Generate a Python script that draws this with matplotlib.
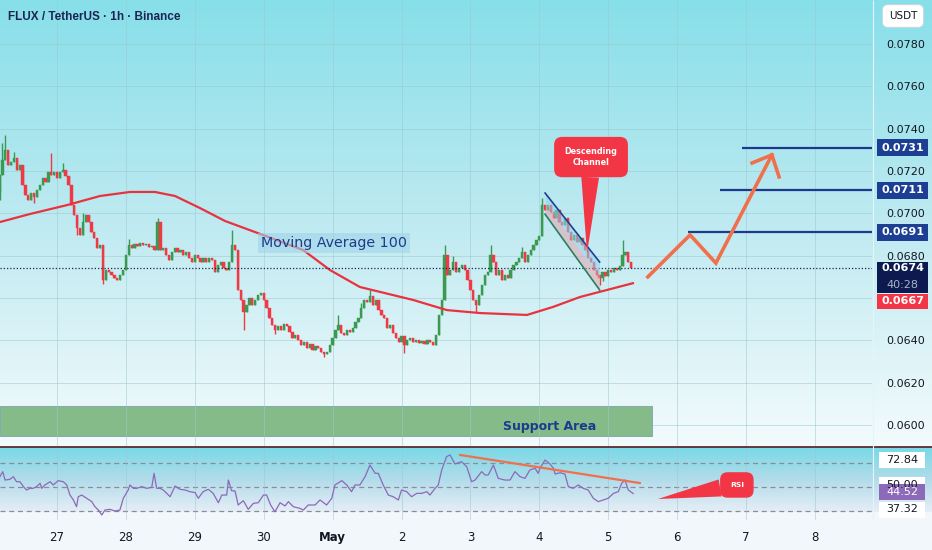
import numpy as np
import matplotlib.pyplot as plt
import matplotlib.transforms as mtransforms
from matplotlib.colors import LinearSegmentedColormap
from matplotlib.patches import Rectangle

plt.rcParams['font.family'] = ['DejaVu Sans']

# hourly FLUX/USDT candles, index 20 = 27 Apr 00:00, last one = 5 May 08:00
first_open = 0.07100
closes = [
    0.07181, 0.07252, 0.07299, 0.07228, 0.07243, 0.07261, 0.07205, 0.07228, 0.07134, 0.07087,
    0.07063, 0.07096, 0.07077, 0.07110, 0.07134, 0.07167, 0.07148, 0.07195, 0.07181, 0.07195,
    0.07167, 0.07195, 0.07205, 0.07176, 0.07134, 0.07039, 0.06992, 0.06931, 0.06898, 0.06959,
    0.06992, 0.06959, 0.06912, 0.06884, 0.06836, 0.06850, 0.06685, 0.06732, 0.06723, 0.06709,
    0.06695, 0.06685, 0.06709, 0.06732, 0.06803, 0.06850, 0.06836, 0.06855, 0.06846, 0.06860,
    0.06850, 0.06855, 0.06841, 0.06846, 0.06827, 0.06959, 0.06827, 0.06836, 0.06803, 0.06780,
    0.06817, 0.06836, 0.06817, 0.06827, 0.06803, 0.06817, 0.06789, 0.06770, 0.06803, 0.06789,
    0.06770, 0.06789, 0.06770, 0.06789, 0.06780, 0.06723, 0.06756, 0.06770, 0.06742, 0.06732,
    0.06770, 0.06850, 0.06827, 0.06638, 0.06591, 0.06534, 0.06567, 0.06600, 0.06567, 0.06591,
    0.06614, 0.06624, 0.06591, 0.06553, 0.06506, 0.06473, 0.06449, 0.06468, 0.06449, 0.06477,
    0.06468, 0.06439, 0.06411, 0.06425, 0.06402, 0.06378, 0.06392, 0.06364, 0.06383, 0.06354,
    0.06373, 0.06364, 0.06345, 0.06336, 0.06345, 0.06378, 0.06411, 0.06449, 0.06473, 0.06435,
    0.06425, 0.06449, 0.06439, 0.06458, 0.06487, 0.06506, 0.06553, 0.06591, 0.06581, 0.06610,
    0.06567, 0.06591, 0.06543, 0.06520, 0.06506, 0.06458, 0.06473, 0.06435, 0.06411, 0.06392,
    0.06421, 0.06378, 0.06402, 0.06411, 0.06392, 0.06402, 0.06388, 0.06397, 0.06383, 0.06402,
    0.06392, 0.06378, 0.06425, 0.06520, 0.06591, 0.06803, 0.06709, 0.06732, 0.06770, 0.06723,
    0.06742, 0.06756, 0.06732, 0.06685, 0.06638, 0.06591, 0.06567, 0.06614, 0.06662, 0.06709,
    0.06723, 0.06803, 0.06770, 0.06709, 0.06732, 0.06685, 0.06709, 0.06695, 0.06732, 0.06756,
    0.06770, 0.06789, 0.06817, 0.06770, 0.06803, 0.06827, 0.06850, 0.06874, 0.06893, 0.07039,
    0.07016, 0.07039, 0.07006, 0.06978, 0.07016, 0.06959, 0.06945, 0.06978, 0.06912, 0.06874,
    0.06898, 0.06865, 0.06884, 0.06850, 0.06827, 0.06789, 0.06770, 0.06732, 0.06709, 0.06695,
    0.06723, 0.06704, 0.06732, 0.06723, 0.06742, 0.06732, 0.06751, 0.06803, 0.06817, 0.06770,
    0.06740,
]
# only the wicks that stick out visibly
wick_high = {1: 0.07330, 2: 0.07370, 5: 0.07290, 18: 0.07285, 22: 0.07240, 29: 0.07000,
             45: 0.06880, 55: 0.06978, 81: 0.06921, 118: 0.06520, 126: 0.06575, 129: 0.06638,
             155: 0.06850, 158: 0.06800, 171: 0.06850, 182: 0.06840, 189: 0.07072, 217: 0.06874}
wick_low = {0: 0.07062, 12: 0.07049, 27: 0.06900, 36: 0.06665, 85: 0.06449, 96: 0.06430,
            113: 0.06321, 141: 0.06340, 166: 0.06534, 209: 0.06660, 210: 0.06680}

# moving average 100
ma_x = [0.14, 10.6, 23.5, 35.0, 45.4, 54.1, 61.1, 69.8, 78.5, 91.7, 105.7, 115.1,
        125.5, 144.0, 155.8, 167.3, 183.7, 192.8, 202.2, 220.6]
ma_y = [0.06959, 0.06997, 0.07039, 0.07082, 0.07101, 0.07101, 0.07082, 0.07025, 0.06964,
        0.06898, 0.06827, 0.06732, 0.06652, 0.06591, 0.06543, 0.06529, 0.06520, 0.06558,
        0.06605, 0.06670]

# RSI
rsi_x = [0.1, 1.1, 1.9, 3.6, 4.8, 5.9, 7.1, 8.3, 9.4, 10.6, 11.7, 12.9, 14.1, 14.7, 15.8,
         17.6, 18.7, 20.4, 22.2, 23.4, 24.5, 25.7, 26.8, 27.4, 28.6, 30.3, 32.1, 33.2, 34.4,
         35.6, 36.7, 38.4, 40.2, 41.9, 43.1, 44.8, 45.4, 46.6, 47.8, 49.5, 51.2, 53.0, 53.8,
         54.7, 55.9, 57.0, 59.4, 61.1, 62.8, 64.6, 66.3, 68.1, 69.2, 70.9, 72.7, 74.4, 76.2,
         77.4, 79.1, 79.7, 80.8, 82.0, 83.1, 84.9, 86.6, 88.4, 90.1, 91.9, 93.0, 94.4, 95.9,
         97.7, 99.4, 100.6, 102.3, 104.6, 105.8, 107.5, 109.9,
         111.6, 113.9, 115.7, 116.8, 119.2, 120.9, 122.6, 123.8, 125.5, 127.3, 129.0, 130.8,
         131.9, 133.6, 135.4, 137.1, 138.9, 140.0, 141.8, 143.5, 145.3, 147.0, 148.8, 149.9,
         151.7, 152.8, 154.0, 155.7, 156.9, 158.6, 160.9, 162.7, 164.4, 165.6, 167.9, 169.1,
         170.2, 172.0, 173.7, 176.0, 177.8, 179.5, 181.3, 183.0, 184.7, 186.5, 187.6, 188.2,
         190.0, 191.7, 192.9, 193.5, 195.2, 196.9, 198.1, 199.8, 201.6, 203.3, 205.0, 206.8,
         208.5, 210.3, 212.0, 213.8, 215.5, 216.7, 217.8, 219.0, 220.7]
rsi_y = [58.6, 62.8, 55.8, 56.4, 58.6, 54.4, 54.4, 50.3, 47.5, 48.9, 48.9, 50.3, 53.1, 48.9, 51.7,
         54.4, 51.7, 55.3, 54.4, 51.7, 43.3, 39.2, 33.6, 41.9, 43.3, 40.6, 37.8, 33.6, 30.8,
         26.7, 30.8, 31.4, 30.0, 30.8, 40.6, 47.5, 51.7, 48.9, 48.9, 50.3, 48.9, 49.7, 61.4,
         48.9, 48.9, 47.5, 41.9, 50.8, 48.1, 47.5, 46.1, 45.3, 40.6, 46.1, 48.1, 44.7, 36.9,
         43.3, 43.3, 55.8, 46.9, 46.7, 35.0, 38.6, 31.4, 36.4, 36.9, 43.3, 43.3, 35.0, 29.4,
         36.9, 34.2, 37.8, 33.6, 32.2, 30.8, 35.0, 35.0,
         39.2, 35.0, 40.6, 51.7, 55.3, 51.7, 46.1, 51.7, 51.7, 58.6, 68.3, 61.4,
         61.4, 51.7, 43.3, 41.9, 39.2, 47.5, 46.1, 41.9, 44.7, 44.7, 46.1, 43.3,
         48.9, 51.7, 64.2, 75.3, 76.7, 69.2, 71.1, 66.9, 54.4, 55.8, 62.8, 60.0,
         60.0, 68.3, 57.2, 55.8, 55.8, 62.8, 58.6, 57.2, 64.2, 65.6, 61.4, 65.6,
         72.5, 69.2, 65.6, 60.8, 61.9, 60.8, 50.3, 48.9, 51.7, 48.9, 47.5, 40.6,
         37.8, 39.2, 40.6, 44.7, 46.1, 53.1, 55.8, 47.5, 44.52]

day_pos = [20, 44, 68, 92, 116, 140, 164, 188, 212, 236, 260, 284]
day_labels = ['27', '28', '29', '30', 'May', '2', '3', '4', '5', '6', '7', '8']
price_ticks = [0.0600, 0.0620, 0.0640, 0.0680, 0.0700, 0.0720, 0.0740, 0.0760, 0.0780]

# drawings
chan_x = [190, 209]
chan_top = [0.07096, 0.06770]
chan_bot = [0.06996, 0.06638]
proj_x = [225.8, 240.5, 249.5, 269.0]
proj_y = [0.06700, 0.06898, 0.06765, 0.07276]
head_x = [262.1, 269.0, 271.5]
head_y = [0.07238, 0.07276, 0.07172]
targets = [0.0731, 0.0711, 0.0691]
target_start = [258.6, 250.9, 239.8]
support_lo, support_hi, support_end = 0.05948, 0.06090, 227.2
rsi_trend_x = [160.4, 223.0]
rsi_trend_y = [76.7, 53.3]
rsi_labels = [72.84, 50.00, 37.32]

UP, DOWN = '#3a9a52', '#ef3a46'
NAVY = '#1c3f94'

W, H = 932, 550
fig = plt.figure(figsize=(W / 100, H / 100), dpi=100)

# background gradients, pixel coords
bg = fig.add_axes([0, 0, 1, 1], zorder=-5)
grad = np.linspace(0, 1, 256).reshape(-1, 1)
cm_main = LinearSegmentedColormap.from_list('main', ['#87dfe9', '#bfeaf1', '#f3fbfc'])
cm_rsi = LinearSegmentedColormap.from_list('rsi', ['#78d9e6', '#b2dcea', '#e6eef6'])
bg.imshow(grad, cmap=cm_main, extent=(0, W, 446, 0), aspect='auto')
bg.imshow(grad, cmap=cm_rsi, extent=(0, W, 512, 447), aspect='auto')
bg.add_patch(Rectangle((0, 512), W, 38, color='#f1f7fa'))
bg.hlines(446.5, 0, W, color='#5a2a30', lw=1.3)
bg.vlines(872.5, 0, 520, color='#e3f5f8', lw=0.8)
bg.set_xlim(0, W)
bg.set_ylim(H, 0)
bg.axis('off')

ax = fig.add_axes([0, 104 / H, 872 / W, 446 / H])
ar = fig.add_axes([0, 30 / H, 872 / W, 72 / H])
for a in (ax, ar):
    a.set_facecolor('none')
    for s in a.spines.values():
        s.set_visible(False)
    a.set_xlim(0.14, 303.87)
    a.set_xticks(day_pos)
    a.grid(axis='x', color='#9cc7d1', lw=0.6, alpha=0.6)
ax.set_ylim(0.059009, 0.080079)
ar.set_ylim(22.5, 82.5)

# price pane
for p in np.arange(0.060, 0.0781, 0.002):
    ax.axhline(p, color='#9cc7d1', lw=0.6, alpha=0.6, zorder=0)
ax.yaxis.tick_right()
ax.set_yticks(price_ticks)
ax.set_yticklabels(['%.4f' % p for p in price_ticks])
ax.tick_params(axis='y', length=0, pad=10, labelsize=8, labelcolor='#131722')
ax.tick_params(axis='x', length=0, labelbottom=False)

ax.add_patch(Rectangle((0, support_lo), support_end, support_hi - support_lo,
                       fc='#84bb88', ec='#7ba3ad', lw=0.6, zorder=1))
ax.text(191.7, 0.05991, 'Support Area', ha='center', va='center', fontsize=9,
        fontweight='bold', color='#1c3a8f', zorder=2)

opens = [first_open] + closes[:-1]
for i, (o, c) in enumerate(zip(opens, closes)):
    col = UP if c >= o else DOWN
    hi = wick_high.get(i, max(o, c))
    lo = wick_low.get(i, min(o, c))
    ax.vlines(i, lo, hi, color=col, lw=1.0, zorder=2)
    body = max(abs(c - o), 0.00004)
    ax.bar(i, body, bottom=min(o, c), width=0.8, color=col, edgecolor=col, lw=0.3, zorder=2)

ax.plot(ma_x, ma_y, color='#e8333f', lw=1.6, zorder=3)
ax.axhline(closes[-1], color='#1a2550', lw=0.9, ls=(0, (1, 1.6)), zorder=3)

ax.text(116.5, 0.06860, 'Moving Average 100', ha='center', va='center', fontsize=10.3,
        color='#1e3a8a', zorder=4,
        bbox=dict(boxstyle='square,pad=0.2', fc='#9fd4e8', ec='none', alpha=0.6))

# descending channel
chan_mid = [(t + b) / 2 for t, b in zip(chan_top, chan_bot)]
ax.fill_between(chan_x, chan_mid, chan_top, color='#8fd3ee', alpha=0.55, lw=0, zorder=3)
ax.fill_between(chan_x, chan_bot, chan_mid, color='#e6a0a8', alpha=0.5, lw=0, zorder=3)
ax.plot(chan_x, chan_top, color='#1f3f8f', lw=1.2, zorder=4)
ax.plot(chan_x, chan_bot, color='#2d7d60', lw=1.2, zorder=4)

ax.annotate('Descending\nChannel', xy=(204.6, 0.06813), xytext=(206.0, 0.07266),
            ha='center', va='center', fontsize=5.8, fontweight='bold', color='white',
            bbox=dict(boxstyle='round,pad=1.3,rounding_size=1.0', fc='#f23645', ec='none'),
            arrowprops=dict(arrowstyle='wedge,tail_width=2.2', fc='#f23645', ec='none',
                            shrinkA=0, shrinkB=0), zorder=6)

# projection and targets
for lvl, x0 in zip(targets, target_start):
    ax.hlines(lvl, x0, 303.87, color='#1b3a8c', lw=1.6, zorder=4)
ax.plot(proj_x, proj_y, color='#f0704c', lw=2.6, solid_joinstyle='miter', zorder=5)
ax.plot(head_x, head_y, color='#f0704c', lw=2.6, solid_joinstyle='miter', zorder=5)

# right-side price labels
tr = mtransforms.blended_transform_factory(ax.transAxes, ax.transData)
ppx = (0.080079 - 0.059009) / 446
bx0, bw, bxc = 877 / 872, 51 / 872, 902.5 / 872


def price_box(y0, y1, fc):
    ax.add_patch(Rectangle((bx0, y0), bw, y1 - y0, transform=tr, fc=fc, ec='none',
                           clip_on=False, zorder=7))


for lvl in targets:
    price_box(lvl - 8.5 * ppx, lvl + 8.5 * ppx, NAVY)
    ax.text(bxc, lvl, '%.4f' % lvl, transform=tr, ha='center', va='center', fontsize=8,
            fontweight='bold', color='white', zorder=8)
price_box(0.06624, 0.06770, '#0c1a50')
ax.text(bxc, closes[-1], '%.4f' % closes[-1], transform=tr, ha='center', va='center',
        fontsize=8, fontweight='bold', color='white', zorder=8)
ax.text(bxc, 0.06662, '40:28', transform=tr, ha='center', va='center', fontsize=8,
        color='#aab4c8', zorder=8)
price_box(0.06548, 0.06619, '#f23645')
ax.text(bxc, 0.06584, '%.4f' % ma_y[-1], transform=tr, ha='center', va='center',
        fontsize=8, fontweight='bold', color='white', zorder=8)

# RSI pane
for lv in (70, 50, 30):
    ar.axhline(lv, color='#8a8d99', lw=0.9, ls=(0, (4, 3)), zorder=1)
ar.plot(rsi_x, rsi_y, color='#8c69b9', lw=0.9, zorder=3)
ar.plot(rsi_trend_x, rsi_trend_y, color='#f0704c', lw=1.6, zorder=4)
ar.annotate('RSI', xy=(229.3, 40.0), xytext=(256.8, 51.7), ha='center', va='center',
            fontsize=5.4, fontweight='bold', color='white',
            bbox=dict(boxstyle='round,pad=1.3,rounding_size=1.0', fc='#f23645', ec='none'),
            arrowprops=dict(arrowstyle='wedge,tail_width=2.3', fc='#f23645', ec='none',
                            shrinkA=0, shrinkB=0), zorder=6)
ar.set_yticks([])
ar.set_xticklabels(day_labels)
ar.tick_params(axis='x', length=0, pad=8, labelsize=8.5, labelcolor='#131722')
ar.get_xticklabels()[4].set_fontweight('bold')

trr = mtransforms.blended_transform_factory(ar.transAxes, ar.transData)
rpx = 60 / 72
# the 50.00 scale label sits mostly under the current-value box, as on the original
for val, yc, fc, tc in [(rsi_labels[1], 51.5, 'white', '#131722'),
                        (rsi_labels[0], 72.84, 'white', '#131722'),
                        (rsi_y[-1], 45.8, '#8c69b9', 'white'),
                        (rsi_labels[2], 31.25, 'white', '#131722')]:
    ar.add_patch(Rectangle((879 / 872, yc - 8 * rpx), 46 / 872, 16 * rpx, transform=trr,
                           fc=fc, ec='none', clip_on=False, zorder=7))
    ar.text(902 / 872, yc, '%.2f' % val, transform=trr, ha='center', va='center',
            fontsize=8, color=tc, zorder=8)

# header
fig.text(8 / W, 1 - 17 / H, 'FLUX / TetherUS · 1h · Binance', ha='left', va='center',
         fontsize=8.5, fontweight='bold', color='#1b2555', family='Liberation Sans')
fig.text(903 / W, 1 - 16 / H, 'USDT', ha='center', va='center', fontsize=7.5,
         color='#131722',
         bbox=dict(boxstyle='round,pad=0.6,rounding_size=0.5', fc='white', ec='#cfd8dc',
                   lw=0.6))

fig.savefig('out.png', dpi=100)
